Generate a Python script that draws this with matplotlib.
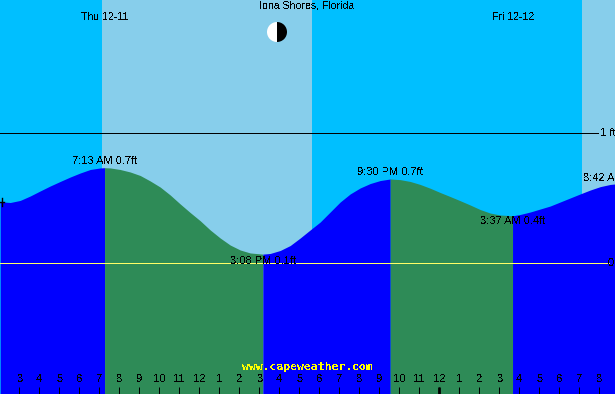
import matplotlib
matplotlib.use("Agg")
import matplotlib.pyplot as plt
import numpy as np
from matplotlib.patches import Wedge

plt.rcParams["font.family"] = ["Liberation Sans", "DejaVu Sans"]
plt.rcParams["text.antialiased"] = False

# tide curve, hours from Thu 00:00 and feet
hours = [2.0, 2.5, 3.0, 3.5, 4.0, 4.5, 5.0, 5.5, 6.0, 6.5, 7.0, 7.217, 7.5, 8.0, 8.5, 9.0,
         9.5, 10.0, 10.5, 11.0, 11.5, 12.0, 12.5, 13.0, 13.5, 14.0, 14.5, 15.133, 15.5, 16.0,
         16.5, 17.0, 17.5, 18.0, 18.5, 19.0, 19.5, 20.0, 20.5, 21.0, 21.5, 22.0, 22.5, 23.0,
         23.5, 24.0, 24.5, 25.0, 25.5, 26.0, 26.5, 27.0, 27.617, 28.0, 28.5, 29.0, 29.5, 30.0,
         30.5, 31.0, 31.5, 32.0, 32.5, 32.75]
feet = [0.475, 0.469, 0.485, 0.519, 0.558, 0.596, 0.631, 0.665, 0.696, 0.723, 0.735, 0.737,
        0.735, 0.723, 0.704, 0.677, 0.635, 0.588, 0.527, 0.458, 0.392, 0.329, 0.258, 0.196,
        0.142, 0.104, 0.081, 0.072, 0.077, 0.100, 0.138, 0.196, 0.258, 0.319, 0.396, 0.473,
        0.535, 0.581, 0.615, 0.638, 0.650, 0.645, 0.631, 0.608, 0.579, 0.546, 0.515, 0.483,
        0.450, 0.415, 0.388, 0.373, 0.367, 0.377, 0.396, 0.419, 0.442, 0.473, 0.504, 0.535,
        0.565, 0.591, 0.608, 0.612]

# high/low turning points
turn_hours = [7.217, 15.133, 21.5, 27.617]
turn_labels = ["7:13 AM 0.7ft", "3:08 PM 0.1ft", "9:30 PM 0.7ft", "3:37 AM 0.4ft"]
turn_feet = [0.785, 0.022, 0.70, 0.327]

# daylight spans in hours
day_spans = [(7.075, 17.575), (31.075, 33.0)]

tick_hours = list(range(3, 33))
tick_labels = ["3", "4", "5", "6", "7", "8", "9", "10", "11", "12", "1", "2", "3", "4", "5",
               "6", "7", "8", "9", "10", "11", "12", "1", "2", "3", "4", "5", "6", "7", "8"]

SKY_NIGHT = "#00BFFF"
SKY_DAY = "#87CEEB"
RISING = "#0000FF"
FALLING = "#2E8B57"
FONT = 8
TICK_SHIFT = 0.05  # ticks sit about a pixel left of the curve's time scale

fig = plt.figure(figsize=(6.15, 3.94), dpi=100)
ax = fig.add_axes([0, 0, 1, 1])
ax.set_xlim(1.99, 32.74)
ax.set_ylim(-1.004, 2.027)
ax.set_facecolor(SKY_NIGHT)
for s in ax.spines.values():
    s.set_visible(False)

for start, end in day_spans:
    ax.axvspan(start, end, color=SKY_DAY, lw=0, zorder=1)
ax.axhline(1.0, xmax=0.972, color="black", lw=0.72, zorder=2)

# water, blue on the rising tide and green on the falling tide
h = np.array(hours)
f = np.array(feet)
edges = [h[0]] + turn_hours + [h[-1]]
for i in range(len(edges) - 1):
    mask = (h >= edges[i]) & (h <= edges[i + 1])
    color = RISING if i % 2 == 0 else FALLING
    ax.fill_between(h[mask], f[mask], -1.004, color=color, lw=0, antialiased=False, zorder=3)

ax.axhline(0.0, xmax=0.99, color="#FFFF66", lw=0.72, zorder=4)

ax.set_xticks(np.array(tick_hours) - TICK_SHIFT)
ax.set_xticklabels(tick_labels)
ax.tick_params(axis="x", direction="in", length=5, width=0.72, color="black",
               labelsize=FONT, pad=-14.5, labelcolor="black")
ax.tick_params(axis="y", left=False, labelleft=False)
ax.xaxis.set_zorder(5)  # ticks sit on top of the water
ax.vlines(24 - TICK_SHIFT, -1.004, -0.95, color="black", lw=2, zorder=5)

for t, label, ft in zip(turn_hours, turn_labels, turn_feet):
    ax.text(t, ft, label, ha="center", va="center", fontsize=FONT, zorder=6)

# overlay in pixels for the fixed page furniture
over = fig.add_axes([0, 0, 1, 1])
over.set_xlim(0, 615)
over.set_ylim(394, 0)
over.axis("off")

over.text(307, 5.5, "Iona Shores, Florida", ha="center", va="center", fontsize=7.6)
over.text(104.5, 17, "Thu 12-11", ha="center", va="center", fontsize=7.6)
over.text(513, 17, "Fri 12-12", ha="center", va="center", fontsize=7.6)
over.text(583, 178, "8:42 AM 0.7ft", ha="left", va="center", fontsize=FONT)
over.text(600, 133.5, "1 ft", ha="left", va="center", fontsize=FONT)
over.text(608, 263.5, "0 ft", ha="left", va="center", fontsize=FONT)
over.text(307, 366.5, "www.capeweather.com", ha="center", va="center", color="yellow",
          family="DejaVu Sans Mono", fontweight="bold", fontsize=8.2)

over.add_patch(Wedge((277, 32), 10, 90, 270, fc="white", lw=0))
over.add_patch(Wedge((277, 32), 10, -90, 90, fc="black", lw=0))

over.plot([0, 3.5], [202.3, 202.3], color="black", lw=1)
over.plot([1.5, 1.5], [198, 206], color="black", lw=1)

fig.savefig("out.png", dpi=100)
